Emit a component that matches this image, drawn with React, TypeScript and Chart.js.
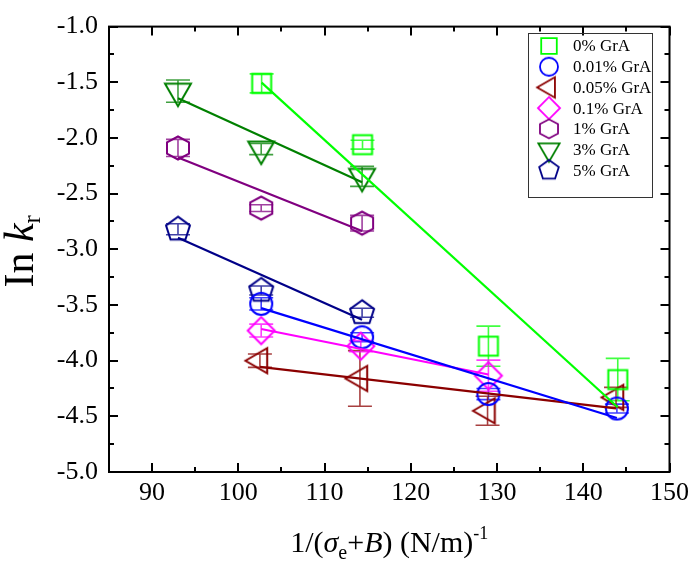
import React, { useEffect, useRef } from "react";
import { Chart, registerables } from "chart.js";

Chart.register(...registerables);

// Axis ticks
const xMajorTicks = [90, 100, 110, 120, 130, 140, 150];
const xMinorTicks = [95, 105, 115, 125, 135, 145];
const yMajorTicks = [-5.0, -4.5, -4.0, -3.5, -3.0, -2.5, -2.0, -1.5, -1.0];
const yMinorTicks = [-4.75, -4.25, -3.75, -3.25, -2.75, -2.25, -1.75, -1.25];

// Series names, colours, marker shapes
const seriesNames = ["0% GrA", "0.01% GrA", "0.05% GrA", "0.1% GrA", "1% GrA", "3% GrA", "5% GrA"];
const seriesColors = ["#00ff00", "#0000ff", "#8b0000", "#ff00ff", "#800080", "#008000", "#000088"];
const seriesShapes = ["square", "circle", "triangleLeft", "diamond", "hexagon", "triangleDown", "pentagon"];

// 0% GrA
const x0 = [102.7, 114.4, 129.0, 144.0];
const y0 = [-1.51, -2.06, -3.87, -4.17];
const e0 = [0.085, 0.04, 0.18, 0.19];
// 0.01% GrA
const x1 = [102.65, 114.35, 129.0, 143.9];
const y1 = [-3.49, -3.79, -4.30, -4.43];
const e1 = [0.055, 0.04, 0.05, 0.04];
// 0.05% GrA
const x2 = [102.5, 114.1, 128.9, 143.8];
const y2 = [-4.0, -4.16, -4.45, -4.33];
const e2 = [0.06, 0.25, 0.13, 0.09];
// 0.1% GrA
const x3 = [102.65, 114.2, 129.0];
const y3 = [-3.73, -3.87, -4.135];
const e3 = [0.058, 0.05, 0.14];
// 1% GrA
const x4 = [93.0, 102.65, 114.35];
const y4 = [-2.09, -2.63, -2.765];
const e4 = [0.077, 0.03, 0.07];
// 3% GrA
const x5 = [93.0, 102.65, 114.35];
const y5 = [-1.58, -2.1, -2.345];
const e5 = [0.1, 0.05, 0.09];
// 5% GrA
const x6 = [93.0, 102.65, 114.35];
const y6 = [-2.82, -3.37, -3.57];
const e6 = [0.05, 0.04, 0.04];

const xSeries = [x0, x1, x2, x3, x4, x5, x6];
const ySeries = [y0, y1, y2, y3, y4, y5, y6];
const eSeries = [e0, e1, e2, e3, e4, e5, e6];

const SERIF = '"Liberation Serif", "Times New Roman", serif';

function withAlpha(hex: string, a: number) {
  const n = parseInt(hex.slice(1), 16);
  return `rgba(${(n >> 16) & 255},${(n >> 8) & 255},${n & 255},${a})`;
}

function tracePath(ctx: CanvasRenderingContext2D, shape: string, cx: number, cy: number, s: number) {
  ctx.beginPath();
  switch (shape) {
    case "square": {
      const h = 9.5 * s;
      ctx.rect(cx - h, cy - h, 2 * h, 2 * h);
      break;
    }
    case "circle":
      ctx.arc(cx, cy, 11 * s, 0, Math.PI * 2);
      break;
    case "diamond": {
      const h = 13.5 * s;
      ctx.moveTo(cx, cy - h);
      ctx.lineTo(cx + h, cy);
      ctx.lineTo(cx, cy + h);
      ctx.lineTo(cx - h, cy);
      ctx.closePath();
      break;
    }
    case "triangleLeft": {
      const r = 14.5 * s;
      ctx.moveTo(cx - r, cy);
      ctx.lineTo(cx + r / 2, cy - r * 0.866);
      ctx.lineTo(cx + r / 2, cy + r * 0.866);
      ctx.closePath();
      break;
    }
    case "triangleDown": {
      const r = 15 * s;
      ctx.moveTo(cx, cy + r);
      ctx.lineTo(cx - r * 0.866, cy - r / 2);
      ctx.lineTo(cx + r * 0.866, cy - r / 2);
      ctx.closePath();
      break;
    }
    case "hexagon": {
      const rx = 11 * s;
      const ry = 11.5 * s;
      ctx.moveTo(cx, cy - ry);
      ctx.lineTo(cx + rx, cy - ry / 2);
      ctx.lineTo(cx + rx, cy + ry / 2);
      ctx.lineTo(cx, cy + ry);
      ctx.lineTo(cx - rx, cy + ry / 2);
      ctx.lineTo(cx - rx, cy - ry / 2);
      ctx.closePath();
      break;
    }
    case "pentagon": {
      const R = 12.6 * s;
      for (let k = 0; k < 5; k++) {
        const a = ((-90 + 72 * k) * Math.PI) / 180;
        const px = cx + R * Math.cos(a);
        const py = cy + R * Math.sin(a);
        if (k === 0) ctx.moveTo(px, py);
        else ctx.lineTo(px, py);
      }
      ctx.closePath();
      break;
    }
  }
}

function markerCanvas(shape: string, color: string, s: number, lw: number) {
  let size = Math.ceil(2 * 16 * s + 6);
  if (size % 2) size += 1;
  const c = document.createElement("canvas");
  c.width = size;
  c.height = size;
  const ctx = c.getContext("2d")!;
  ctx.strokeStyle = color;
  ctx.lineWidth = lw;
  ctx.lineJoin = "miter";
  tracePath(ctx, shape, size / 2, size / 2, s);
  ctx.stroke();
  return c;
}

function linearFit(xs: number[], ys: number[]) {
  const n = xs.length;
  const mx = xs.reduce((a, b) => a + b, 0) / n;
  const my = ys.reduce((a, b) => a + b, 0) / n;
  let sxy = 0;
  let sxx = 0;
  for (let i = 0; i < n; i++) {
    sxy += (xs[i] - mx) * (ys[i] - my);
    sxx += (xs[i] - mx) ** 2;
  }
  const slope = sxy / sxx;
  const lo = Math.min(...xs);
  const hi = Math.max(...xs);
  return [
    { x: lo, y: my + slope * (lo - mx) },
    { x: hi, y: my + slope * (hi - mx) },
  ];
}

const errorBarPlugin = {
  id: "errorBars",
  beforeDatasetsDraw(chart: any) {
    const { ctx } = chart;
    const xs = chart.scales.x;
    const ys = chart.scales.y;
    ctx.save();
    chart.data.datasets.forEach((ds: any) => {
      if (!ds.errors) return;
      ctx.strokeStyle = withAlpha(ds.baseColor, 0.75);
      ctx.lineWidth = 1.6;
      ds.data.forEach((p: any, i: number) => {
        const e = ds.errors[i];
        const px = xs.getPixelForValue(p.x);
        const top = ys.getPixelForValue(p.y + e);
        const bot = ys.getPixelForValue(p.y - e);
        const cap = 12;
        ctx.beginPath();
        ctx.moveTo(px, top);
        ctx.lineTo(px, bot);
        ctx.moveTo(px - cap, top);
        ctx.lineTo(px + cap, top);
        ctx.moveTo(px - cap, bot);
        ctx.lineTo(px + cap, bot);
        ctx.stroke();
      });
    });
    ctx.restore();
  },
};

function drawRuns(
  ctx: CanvasRenderingContext2D,
  runs: { t: string; font: string; dy: number }[],
  x: number,
  y: number
) {
  let total = 0;
  runs.forEach((r) => {
    ctx.font = r.font;
    total += ctx.measureText(r.t).width;
  });
  let cx = x - total / 2;
  runs.forEach((r) => {
    ctx.font = r.font;
    ctx.fillText(r.t, cx, y + r.dy);
    cx += ctx.measureText(r.t).width;
  });
}

const framePlugin = {
  id: "frameAndText",
  afterDraw(chart: any) {
    const { ctx, chartArea: a } = chart;
    const xs = chart.scales.x;
    const ys = chart.scales.y;
    ctx.save();
    ctx.strokeStyle = "#000";
    ctx.lineWidth = 2;
    ctx.strokeRect(a.left, a.top, a.right - a.left, a.bottom - a.top);

    const tick = (len: number, vals: number[], horiz: boolean) => {
      vals.forEach((v) => {
        if (horiz) {
          const px = Math.round(xs.getPixelForValue(v));
          ctx.beginPath();
          ctx.moveTo(px, a.bottom);
          ctx.lineTo(px, a.bottom - len);
          ctx.moveTo(px, a.top);
          ctx.lineTo(px, a.top + len);
          ctx.stroke();
        } else {
          const py = Math.round(ys.getPixelForValue(v));
          ctx.beginPath();
          ctx.moveTo(a.left, py);
          ctx.lineTo(a.left + len, py);
          ctx.moveTo(a.right, py);
          ctx.lineTo(a.right - len, py);
          ctx.stroke();
        }
      });
    };
    tick(9, xMajorTicks, true);
    tick(5, xMinorTicks, true);
    tick(9, yMajorTicks, false);
    tick(5, yMinorTicks, false);

    ctx.fillStyle = "#000";
    ctx.textBaseline = "alphabetic";

    // x-axis title
    drawRuns(
      ctx,
      [
        { t: "1/(", font: `30px ${SERIF}`, dy: 0 },
        { t: "σ", font: `italic 30px ${SERIF}`, dy: 0 },
        { t: "e", font: `20px ${SERIF}`, dy: 7 },
        { t: "+", font: `30px ${SERIF}`, dy: 0 },
        { t: "B", font: `italic 30px ${SERIF}`, dy: 0 },
        { t: ") (N/m)", font: `30px ${SERIF}`, dy: 0 },
        { t: "-1", font: `18px ${SERIF}`, dy: -13 },
      ],
      (a.left + a.right) / 2,
      552
    );

    // y-axis title
    ctx.save();
    ctx.translate(33, (a.top + a.bottom) / 2 + 2);
    ctx.rotate(-Math.PI / 2);
    drawRuns(
      ctx,
      [
        { t: "In ", font: `42px ${SERIF}`, dy: 0 },
        { t: "k", font: `italic 42px ${SERIF}`, dy: 0 },
        { t: "r", font: `25px ${SERIF}`, dy: 7 },
      ],
      0,
      0
    );
    ctx.restore();

    // legend box
    const lx = 528;
    const ly = 33;
    const lw = 124;
    const lh = 164;
    ctx.lineWidth = 1;
    ctx.strokeStyle = "#333";
    ctx.strokeRect(lx + 0.5, ly + 0.5, lw, lh);
    ctx.textBaseline = "middle";
    ctx.font = `17px ${SERIF}`;
    seriesNames.forEach((name, i) => {
      const cy = 46 + i * 20.7;
      const m = markerCanvas(seriesShapes[i], seriesColors[i], 0.82, 1.8);
      ctx.drawImage(m, 549 - m.width / 2, cy - m.height / 2);
      ctx.fillText(name, 573, cy + 1);
    });
    ctx.restore();
  },
};

export default function App() {
  const ref = useRef<HTMLCanvasElement | null>(null);

  useEffect(() => {
    document.body.style.margin = "0";
    const canvas = ref.current;
    if (!canvas) return;

    const pointSets = seriesNames.map((name, i) => ({
      type: "scatter" as const,
      label: name,
      data: xSeries[i].map((x, j) => ({ x, y: ySeries[i][j] })),
      errors: eSeries[i],
      baseColor: seriesColors[i],
      pointStyle: markerCanvas(seriesShapes[i], seriesColors[i], 1, 2),
      pointRadius: 10,
      showLine: false,
      order: 1,
    }));

    const fitSets = seriesNames.map((name, i) => ({
      type: "line" as const,
      label: name + " fit",
      data: linearFit(xSeries[i], ySeries[i]),
      borderColor: seriesColors[i],
      borderWidth: 2.2,
      pointRadius: 0,
      showLine: true,
      fill: false,
      tension: 0,
      order: 0,
    }));

    const chart = new Chart(canvas, {
      type: "scatter",
      data: { datasets: [...pointSets, ...fitSets] as any },
      options: {
        animation: false,
        responsive: false,
        devicePixelRatio: 1,
        layout: { padding: { top: 14, right: 19, left: 0, bottom: 0 } },
        plugins: {
          legend: { display: false },
          tooltip: { enabled: false },
        },
        scales: {
          x: {
            type: "linear",
            min: 85,
            max: 150,
            afterBuildTicks: (s: any) => {
              s.ticks = xMajorTicks.map((v) => ({ value: v }));
            },
            afterFit: (s: any) => {
              s.height = 95;
            },
            ticks: {
              font: { family: SERIF, size: 26 },
              color: "#000",
              padding: 6,
              maxRotation: 0,
              autoSkip: false,
            },
            grid: { display: false, drawTicks: false },
            border: { display: false },
          },
          y: {
            type: "linear",
            min: -5,
            max: -1,
            afterBuildTicks: (s: any) => {
              s.ticks = yMajorTicks.map((v) => ({ value: v }));
            },
            afterFit: (s: any) => {
              s.width = 109;
            },
            ticks: {
              font: { family: SERIF, size: 26 },
              color: "#000",
              padding: 11,
              autoSkip: false,
              callback: (v: any) => Number(v).toFixed(1),
            },
            grid: { display: false, drawTicks: false },
            border: { display: false },
          },
        },
      },
      plugins: [errorBarPlugin, framePlugin],
    });

    return () => chart.destroy();
  }, []);

  return (
    <div style={{ width: 695, height: 567, background: "#fff" }}>
      <canvas ref={ref} width={695} height={567} />
    </div>
  );
}
